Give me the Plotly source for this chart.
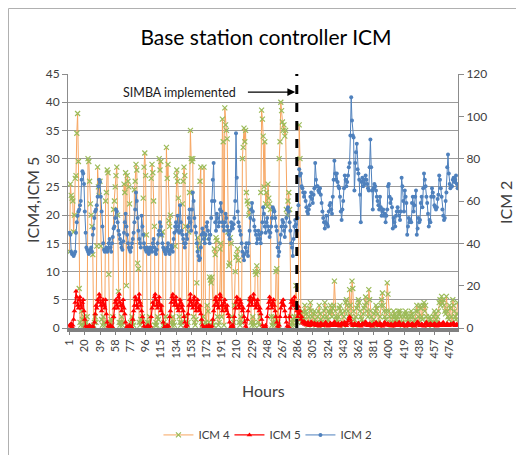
import plotly.graph_objects as go

# ---------------- data ----------------
icm4 = [
    # before SIMBA (hours 1-286)
    13.5, 25.5, 23.5, 23, 22.5, 17, 20, 26.5, 27, 34.5, 38, 29.5, 7, 1, 0.5, 3, 1.5, 0.5, 2, 1, 0.5, 1, 2, 30,
    29.5, 26, 22, 20, 18, 13, 0.5, 1, 2, 1, 14.5, 28.5, 25, 23.5, 26, 14.5, 1.5, 0.5, 2, 1, 0.5, 22.5, 24, 28,
    27.5, 9.5, 0.5, 1, 1.5, 0.5, 2, 21, 22.5, 25, 27, 28.5, 20, 6.5, 1, 0.5, 1, 2, 0.5, 1, 25.5, 24, 27.5, 7.5,
    27, 26, 25, 22, 1, 0.5, 2, 1, 0.5, 24.5, 26, 29, 28, 11.5, 10.5, 1, 0.5, 1.5, 1, 2, 23, 28.5, 31, 27,
    16.5, 1, 0.5, 1, 2, 0.5, 26.5, 29, 27.5, 22.5, 18, 0.5, 1, 0.5, 2, 1.5, 30, 28, 29.5, 16.5, 17, 0.5, 1, 0.5,
    2, 32, 26.5, 29, 19, 18, 20, 1, 0.5, 2, 1, 0.5, 14.5, 27, 28, 26, 23, 2, 1, 0.5, 1, 22, 26, 28.5,
    27, 18, 2, 0.5, 1, 17, 24, 35, 30, 29.5, 30, 2, 1, 0.5, 1.5, 8, 16, 14, 15, 26, 28.5, 1, 0.5, 2,
    28.5, 16, 1, 0.5, 4, 3, 1, 9, 8.5, 8, 9, 1, 0.5, 14, 13, 16, 15.5, 2, 0.5, 1, 14, 15, 2, 37,
    33, 0.5, 39, 36, 35, 33.5, 17, 11, 11.5, 16, 15, 2, 0.5, 1, 4, 10, 12.5, 13, 14, 12, 1, 0.5, 2, 1,
    30, 32, 35.4, 33, 35, 24, 22.5, 22, 20, 21, 5, 1, 0.5, 2, 1, 0.5, 10, 9.5, 11, 10, 1, 0.5, 2, 24,
    38.6, 37, 34, 25, 33, 22, 24, 21.5, 25.5, 23, 22, 21, 2, 0.5, 1, 2, 0.5, 1, 10, 10.5, 1, 0.5, 30, 33,
    40, 38.5, 36.5, 35, 36, 34, 35, 21, 20, 22.5, 24, 21, 2, 0.5, 1, 1.5, 0.5, 2, 4, 7.5, 2, 1,
    # after SIMBA (hours 287-486)
    2, 36, 30, 2.5, 1, 3, 2, 1.5, 4, 3, 2.5, 1, 0.5, 2, 3.5, 4.5, 3, 2, 1, 2.5, 3, 1.5, 0.5, 1,
    2, 3, 4, 2.5, 1.5, 1, 0.5, 2, 3, 4.5, 3.5, 2, 1, 1.5, 3, 2.5, 4, 3, 2, 3.5, 4, 8.3, 3, 2,
    1.5, 1, 2, 3.5, 4, 3, 2.5, 1, 0.5, 2, 3, 4.5, 5, 4, 3, 2, 6.8, 4, 2, 8.3, 7, 3, 1.5, 0.5,
    2, 3.5, 4, 5, 4.5, 3, 2, 1.5, 1, 2.5, 3.5, 4, 5.5, 4.5, 3, 2, 6.8, 5, 3, 2, 1, 0.5, 1.5, 2.5,
    3, 4, 3.5, 2.5, 1, 0.5, 2, 4, 5, 6.2, 4, 3, 2, 1.5, 3, 8, 6, 3, 2, 1, 0.5, 1, 2, 3,
    2.5, 2, 1.5, 1, 2, 3, 2.5, 3, 2, 1, 0.5, 1, 2, 2.5, 3, 2.5, 2, 1.5, 1, 0.5, 2, 3, 2.5, 2,
    1, 0.5, 1.5, 3, 4, 3, 2, 1, 4, 3.5, 2, 1.5, 4, 4.5, 3, 4, 2, 1, 0.5, 1, 2, 1.5, 1, 0.5,
    1, 2, 3, 2.5, 1.5, 1, 2, 3, 4.5, 5, 4, 5.6, 4.5, 5, 4, 3, 2.5, 5.6, 3, 2, 1.5, 4, 3.5, 2,
    1, 5, 4, 3, 2, 1.5, 2.5, 4.5,
]

icm5 = [
    # before SIMBA
    0.5, 0.3, 0.8, 0.2, 0.5,
    1.5, 3, 4.5, 6.5, 5.5, 4, 3.5, 5, 5.5, 4, 3.5, 4.5, 5, 3, 1.5,
    0.3, 0, 0.2, 0, 0, 0.5, 0, 0.2, 0, 0.3, 0,
    1, 2.5, 4, 3.5, 5, 4.5, 6, 5.5, 4, 3, 4.5, 5, 4, 3.5, 5, 2.5, 1,
    0.3, 0, 0, 0.5, 0, 0.2, 0,
    2, 3.5, 4.5, 5, 4, 3.5, 5.5, 6, 4.5, 4, 3, 4, 5, 3.5, 2.5, 1,
    0, 0.3, 0, 0, 0.5, 0, 0.2, 0,
    1.5, 3, 4, 5.5, 5, 4, 3.5, 5, 6, 4.5, 4, 3, 2, 1,
    0.3, 0, 0, 0.2, 0, 0.5, 0, 0, 0.3,
    2, 3.5, 4.5, 4, 5.5, 6, 5, 4, 3.5, 4.5, 5.5, 4, 3, 4, 2.5, 1,
    0, 0.2, 0, 0, 0.5, 0, 0.3,
    2, 3, 4.5, 5.5, 6, 5, 4, 4.5, 5.5, 4, 3.5, 3, 4, 5, 4.5, 3.5, 4, 3, 2, 1,
    0.3, 0, 0.5,
    2.5, 4, 5, 6, 4.5, 4, 3.5, 5, 5.5, 4, 3, 4.5, 5, 3.5, 3, 4, 2.5, 1.5, 0.5,
    0, 0.2, 0, 0, 0.3, 0, 0, 0.5, 0, 0.2, 0, 0.3,
    1.5, 3, 4, 5, 5.5, 4.5, 4, 3.5, 5, 6, 5.5, 4, 3, 4, 4.5, 5, 3.5, 3, 4, 2.5, 2, 1,
    0, 0.3, 0, 0.5, 0,
    2, 3.5, 4.5, 5.5, 5, 4, 3.5, 5, 4.5, 4, 3, 3.5, 2, 1,
    0.3, 0,
    1.5, 3, 4, 5, 5.5, 4.5, 4, 5, 6, 5, 4, 3.5, 4.5, 5, 4, 3, 3.5, 2.5, 1.5, 0.5,
    0, 0.2, 0, 0.5, 0,
    2, 3.5, 4.5, 5.5, 5, 4, 3.5, 4.5, 5, 4, 3, 2, 1,
    0.3, 0, 0.5, 2, 3.5, 4.5, 4, 5, 4, 3, 2, 1, 0.3, 0, 0.2,
    2, 3.5, 4.5, 5, 4, 4.5, 5.5, 4, 3.5, 3, 2,
    # after SIMBA
    3.8, 2.5, 3.0, 1.5, 2.0, 1.0, 0.8, 1.2, 0.6, 0.9, 0.5, 0.8, 1.0, 0.6, 0.4, 0.7, 1.1, 0.8, 0.5, 0.6, 0.9, 0.7, 0.4, 0.6,
    0.8, 0.5, 0.3, 0.6, 0.9, 0.7, 0.5, 0.4, 0.6, 0.8, 1.0, 0.7, 0.5, 0.3, 0.5, 0.7, 0.9, 0.6, 0.4, 0.5, 0.8, 1.1, 0.7, 0.5,
    0.4, 0.6, 0.8, 0.5, 0.3, 0.6, 0.9, 0.7, 0.5, 0.8, 1.0, 0.6, 0.4, 0.7, 1.2, 1.6, 2.0, 1.5, 0.9, 0.6, 0.4, 0.5, 0.8, 0.6,
    0.4, 0.5, 0.7, 0.9, 0.6, 0.4, 0.3, 0.6, 0.8, 0.5, 0.7, 0.9, 1.1, 0.8, 0.5, 0.4, 0.6, 0.8, 0.6, 0.4, 0.3, 0.5, 0.7, 0.6,
    0.8, 1.0, 0.7, 0.5, 0.4, 0.6, 0.9, 0.7, 0.5, 0.3, 0.5, 0.8, 1.0, 0.7, 0.5, 0.6, 0.8, 0.5, 0.4, 0.6, 0.7, 0.5, 0.3, 0.5,
    0.7, 0.9, 0.6, 0.4, 0.5, 0.8, 1.0, 0.7, 0.5, 0.4, 0.6, 0.8, 0.6, 0.4, 0.3, 0.5, 0.7, 0.9, 0.6, 0.5, 0.4, 0.6, 0.8, 0.7,
    0.5, 0.3, 0.5, 0.7, 0.9, 1.1, 0.8, 0.6, 0.4, 0.5, 0.7, 0.6, 0.4, 0.3, 0.6, 0.8, 1.0, 0.7, 0.5, 0.4, 0.6, 0.8, 0.6, 0.5,
    0.4, 0.6, 0.8, 0.7, 0.5, 0.3, 0.5, 0.7, 0.9, 0.6, 0.4, 0.5, 0.8, 1.0, 0.7, 0.5, 0.4, 0.6, 0.8, 0.6, 0.4, 0.5, 0.7, 0.6,
    0.5, 0.7, 0.9, 0.6, 0.4, 0.5, 0.7, 0.5,
]

icm2 = [
    # before SIMBA
    45, 44, 36, 35, 35, 34, 35, 36, 45, 50, 53, 55, 56, 58, 60, 70, 74, 73, 68, 55, 45, 38, 37, 36,
    35, 36, 37, 38, 36, 44, 47, 52, 55, 56, 58, 62, 67, 70, 69, 62, 55, 48, 40, 37, 36, 37, 38, 36,
    37, 40, 42, 38, 36, 40, 43, 47, 48, 52, 56, 55, 50, 46, 44, 42, 40, 38, 37, 41, 45, 50, 54, 48,
    44, 40, 38, 37, 36, 38, 40, 42, 45, 50, 56, 64, 60, 52, 46, 42, 40, 38, 53, 48, 44, 40, 38, 37,
    36, 38, 37, 35, 36, 38, 37, 36, 40, 42, 38, 36, 35, 37, 40, 44, 46, 50, 48, 44, 40, 38, 37, 36,
    35, 37, 38, 40, 36, 35, 37, 39, 38, 36, 42, 45, 48, 50, 46, 53, 48, 45, 58, 50, 46, 44, 42, 40,
    38, 40, 44, 42, 48, 52, 56, 50, 46, 56, 64, 60, 52, 48, 45, 40, 36, 34, 32, 33, 38, 44, 47, 45,
    42, 40, 44, 48, 50, 46, 42, 40, 44, 52, 60, 70, 78, 60, 50, 46, 54, 52, 48, 50, 56, 59, 55, 50,
    48, 46, 50, 54, 52, 48, 46, 44, 42, 46, 50, 48, 47, 49, 52, 60, 92, 71, 55, 50, 48, 46, 44, 40,
    36, 34, 32, 35, 38, 40, 36, 34, 40, 46, 52, 56, 59, 55, 51, 48, 46, 44, 40, 42, 46, 44, 42, 40,
    45, 50, 57, 54, 48, 45, 50, 52, 48, 46, 43, 45, 48, 52, 57, 56, 55, 52, 48, 46, 38, 34, 36, 40,
    44, 48, 51, 50, 46, 43, 48, 52, 56, 57, 55, 50, 46, 40, 38, 34, 42, 48, 51, 49, 46, 52,
    # after SIMBA
    58, 75, 72, 73, 67, 66, 64, 62, 64, 60, 57, 55, 54, 56, 58, 62, 64, 61, 59, 63, 66, 78, 70, 67,
    67, 65, 64, 66, 63, 59, 55, 52, 50, 47, 50, 53, 49, 48, 55, 58, 59, 56, 54, 62, 70, 79, 73, 70,
    73, 69, 67, 66, 62, 55, 51, 56, 60, 66, 72, 70, 67, 69, 72, 76, 78, 91, 109, 98, 91, 90, 65, 78,
    83, 87, 75, 73, 70, 63, 50, 69, 71, 67, 70, 68, 72, 70, 68, 66, 65, 76, 89, 76, 65, 56, 66, 68,
    67, 65, 62, 60, 58, 56, 62, 57, 53, 55, 56, 53, 54, 50, 53, 56, 67, 68, 62, 59, 61, 57, 47, 52,
    50, 48, 53, 55, 57, 55, 53, 51, 55, 71, 67, 60, 55, 65, 62, 59, 44, 48, 52, 50, 51, 50, 59, 62,
    55, 58, 62, 65, 44, 47, 52, 50, 51, 59, 62, 57, 66, 73, 70, 67, 62, 59, 54, 48, 51, 50, 62, 66,
    64, 62, 58, 57, 56, 57, 61, 63, 72, 70, 66, 62, 56, 53, 51, 52, 60, 64, 76, 82, 73, 68, 66, 67,
    67, 70, 71, 69, 70, 72, 68, 66,
]

hours = list(range(1, len(icm2) + 1))
tick_hours = list(range(1, 477, 19))
tick_labels = [str(h) for h in tick_hours]
simba_hour = 285
left_ticks = list(range(0, 46, 5))
right_ticks = list(range(0, 121, 20))

FONT = "Lato, Carlito, 'Liberation Sans', sans-serif"
TXT = "#404040"

fig = go.Figure()
fig.add_trace(go.Scatter(
    x=hours[:len(icm4)], y=icm4, name="ICM 4", mode="lines+markers",
    line=dict(color="#F7A560", width=1),
    marker=dict(symbol="x-thin", size=5, line=dict(color="#9BBB59", width=1.2), color="#9BBB59"),
    yaxis="y"))
fig.add_trace(go.Scatter(
    x=hours[:len(icm5)], y=icm5, name="ICM 5", mode="lines+markers",
    line=dict(color="#FF0000", width=1.2),
    marker=dict(symbol="triangle-up", size=5, color="#FF0000"),
    yaxis="y"))
fig.add_trace(go.Scatter(
    x=hours, y=icm2, name="ICM 2", mode="lines+markers",
    line=dict(color="#4F81BD", width=1),
    marker=dict(symbol="circle", size=4, color="#4F81BD"),
    yaxis="y2"))

# the page body adds an 8px offset, so the figure is 8px smaller with 8px less left/top margin
fig.update_layout(
    width=516, height=447,
    margin=dict(l=60, r=66, t=66, b=127, autoexpand=False),
    paper_bgcolor="white", plot_bgcolor="white",
    font=dict(family=FONT, color=TXT, size=12),
    title=dict(text="Base station controller ICM", x=0.5, xanchor="center",
               y=1 - 30 / 447, yanchor="middle", yref="container",
               font=dict(family=FONT, size=21, color="#000000")),
    xaxis=dict(range=[-1, 486.5], tickmode="array", tickvals=tick_hours, ticktext=tick_labels,
               tickangle=-90, tickfont=dict(size=11, color=TXT), showgrid=False, zeroline=False,
               showline=True, linecolor="#808080", linewidth=4, ticks="outside", ticklen=3,
               tickcolor="#808080", automargin=False),
    yaxis=dict(range=[0, 45], tickvals=left_ticks, showgrid=True, gridcolor="#9a9a9a", gridwidth=1,
               zeroline=False, showline=True, linecolor="#8c8c8c", linewidth=1, ticks="outside",
               ticklen=5, tickcolor="#8c8c8c", tickfont=dict(size=12, color=TXT), automargin=False),
    yaxis2=dict(range=[0, 120], tickvals=right_ticks, overlaying="y", side="right", showgrid=False,
                zeroline=False, showline=True, linecolor="#8c8c8c", linewidth=1, ticks="outside",
                ticklen=5, tickcolor="#8c8c8c", tickfont=dict(size=12, color=TXT), automargin=False),
    legend=dict(orientation="h", x=0.505, xanchor="center", y=-0.421, yanchor="middle",
                font=dict(size=11.5, color=TXT), bgcolor="rgba(0,0,0,0)", itemwidth=30,
                entrywidth=26, entrywidthmode="pixels"),
    shapes=[
        dict(type="line", xref="x", yref="y", x0=simba_hour, x1=simba_hour, y0=0, y1=45,
             line=dict(color="black", width=3, dash="dash")),
        dict(type="rect", xref="paper", yref="paper", x0=(0.5 - 60) / 390, x1=1.4,
             y0=-0.7, y1=(320 - 0.5) / 254, line=dict(color="#b0b0b0", width=1), layer="below"),
    ],
    annotations=[
        dict(text="SIMBA implemented", xref="x", yref="y", x=138, y=41.8, showarrow=False,
             font=dict(size=12.5, color="#1a1a1a")),
        dict(text="", xref="x", yref="y", x=283, y=41.8, axref="x", ayref="y", ax=222, ay=41.8,
             showarrow=True, arrowhead=2, arrowsize=1.3, arrowwidth=1.2, arrowcolor="black"),
        dict(text="ICM4,ICM 5", xref="paper", yref="paper", x=(33 - 68) / 390, y=0.504,
             xanchor="center", yanchor="middle",
             textangle=-90, showarrow=False, font=dict(size=16, color=TXT)),
        dict(text="ICM 2", xref="paper", yref="paper", x=(505 - 68) / 390, y=0.492,
             xanchor="center", yanchor="middle",
             textangle=-90, showarrow=False, font=dict(size=16, color=TXT)),
        dict(text="Hours", xref="paper", yref="paper", x=0.5, y=(328 - 390) / 254,
             xanchor="center", yanchor="middle",
             showarrow=False, font=dict(size=16, color=TXT)),
    ],
)

fig.write_html("out.html")
